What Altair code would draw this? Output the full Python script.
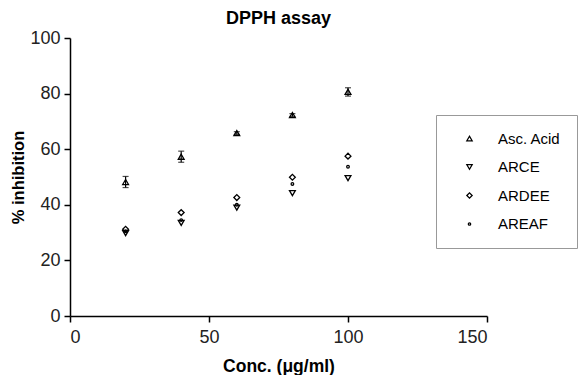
import altair as alt
import pandas as pd

conc = [20, 40, 60, 80, 100]
series = ["Asc. Acid", "ARCE", "ARDEE", "AREAF"]
asc_acid = [48.2, 57.3, 65.8, 72.3, 80.6]
asc_err = [2.0, 2.0, 0.5, 0.5, 1.5]
arce = [29.8, 33.5, 39.0, 44.2, 49.6]
ardee = [31.2, 37.2, 42.6, 49.9, 57.5]
areaf = [30.5, 34.5, 40.0, 47.5, 53.7]

vals = {"Asc. Acid": asc_acid, "ARCE": arce, "ARDEE": ardee, "AREAF": areaf}
rows = []
for s in series:
    for i, c in enumerate(conc):
        err = asc_err[i] if s == "Asc. Acid" else 0.0
        rows.append({"conc": c, "series": s, "val": vals[s][i],
                     "lo": vals[s][i] - err, "hi": vals[s][i] + err})
df = pd.DataFrame(rows)

small_circle = "M-0.45,0A0.45,0.45 0 1,1 0.45,0A0.45,0.45 0 1,1 -0.45,0Z"
shapes = ["triangle-up", "triangle-down", "diamond", small_circle]

xenc = alt.X("conc:Q", scale=alt.Scale(domain=[0, 150], nice=False),
             axis=alt.Axis(values=[0, 50, 100, 150], title="Conc. (\u03bcg/ml)"))
yscale = alt.Scale(domain=[0, 100], nice=False)
yaxis = alt.Axis(values=[0, 20, 40, 60, 80, 100], title="% inhibition")

base = alt.Chart(df)

err = base.transform_filter(alt.datum.series == "Asc. Acid").mark_errorbar(
    ticks=alt.MarkConfig(size=6, color="black"), color="black", thickness=1.2
).encode(
    x=xenc,
    y=alt.Y("lo:Q", scale=yscale, axis=yaxis, title="% inhibition"),
    y2="hi:Q",
)

pts = base.mark_point(filled=False, color="black", strokeWidth=1.3, opacity=1, size=34).encode(
    x=xenc,
    y=alt.Y("val:Q", scale=yscale, axis=yaxis, title="% inhibition"),
    shape=alt.Shape("series:N", scale=alt.Scale(domain=series, range=shapes),
                    sort=series,
                    legend=alt.Legend(title=None, orient="none", legendX=366, legendY=77,
                                      padding=16, strokeColor="#999999",
                                      rowPadding=12.5, labelFontSize=15,
                                      labelFont="Liberation Sans", labelColor="black",
                                      symbolStrokeColor="black", symbolStrokeWidth=1.3,
                                      symbolSize=28, symbolOffset=10, labelOffset=21,
                                      labelLimit=200, symbolFillColor="white")),
)

chart = alt.layer(err, pts).properties(
    width=417, height=278,
    autosize=alt.AutoSizeParams(type="none"),
    padding={"left": 62, "top": 30, "right": 93, "bottom": 59},
    title=alt.TitleParams("DPPH assay", fontSize=18, font="Liberation Sans",
                          fontWeight="bold", anchor="middle", offset=1, color="black"),
).configure_view(stroke=None).configure_axis(
    domainColor="black", tickColor="black", domainWidth=1.5, tickWidth=1.5, tickSize=6,
    labelFont="Liberation Sans", labelFontSize=18, labelColor="#222222",
    titleFont="Liberation Sans", titleFontWeight="bold", titleColor="black",
    grid=False, labelPadding=4,
).configure_axisX(titlePadding=11, titleFontSize=17.5, labelPadding=6).configure_axisY(
    titlePadding=3, titleFontSize=16.5)

chart.save("out.html", embed_options={"renderer": "svg", "actions": False})
